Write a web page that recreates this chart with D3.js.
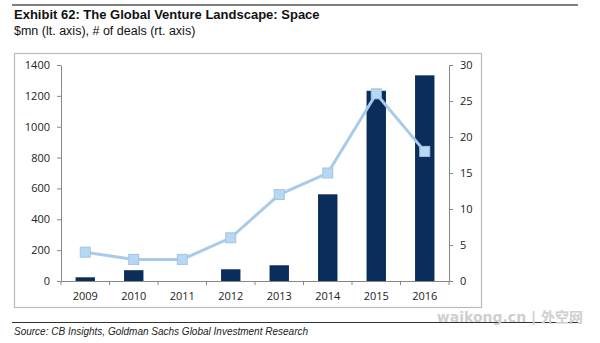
<!DOCTYPE html>
<html>
<head>
<meta charset="utf-8">
<script src="https://cdn.jsdelivr.net/npm/d3@7"></script>
<style>
  body { margin: 0; background: #fff; }
  svg { display: block; }
  .tick text { font-family: "Open Sans", "DejaVu Sans", sans-serif; font-size: 11px; fill: #222; }
</style>
</head>
<body>
<div id="chart"></div>
<script>
const years = ["2009", "2010", "2011", "2012", "2013", "2014", "2015", "2016"];
const funding = [24, 70, 0, 76, 102, 562, 1233, 1333];
const deals = [4, 3, 3, 6, 12, 15, 26, 18];
const leftTicks = [0, 200, 400, 600, 800, 1000, 1200, 1400];
const rightTicks = [0, 5, 10, 15, 20, 25, 30];

const width = 600, height = 343;
const plot = {left: 61, right: 449, top: 65, bottom: 281};

const svg = d3.select("#chart")
  .append("svg")
  .attr("width", width)
  .attr("height", height);

// header and footer rules
svg.append("line")
  .attr("x1", 12).attr("x2", 578).attr("y1", 5).attr("y2", 5)
  .attr("stroke", "#555").attr("stroke-width", 1.5);

svg.append("text")
  .attr("x", 14).attr("y", 19)
  .attr("font-family", "Liberation Sans, Arial, sans-serif")
  .attr("font-weight", "bold").attr("font-size", 13).attr("fill", "#111")
  .text("Exhibit 62: The Global Venture Landscape: Space");

svg.append("text")
  .attr("x", 14).attr("y", 35)
  .attr("font-family", "Liberation Sans, Arial, sans-serif")
  .attr("font-size", 12.5).attr("fill", "#111")
  .text("$mn (lt. axis), # of deals (rt. axis)");

svg.append("rect")
  .attr("x", 14.5).attr("y", 53.5).attr("width", 467).attr("height", 254)
  .attr("fill", "none").attr("stroke", "#bbb").attr("stroke-width", 1.2);

svg.append("line")
  .attr("x1", 12).attr("x2", 578).attr("y1", 322.5).attr("y2", 322.5)
  .attr("stroke", "#333").attr("stroke-width", 1);

svg.append("text")
  .attr("x", 14).attr("y", 335)
  .attr("font-family", "Liberation Sans, Arial, sans-serif")
  .attr("font-style", "italic").attr("font-size", 10).attr("fill", "#222")
  .text("Source: CB Insights, Goldman Sachs Global Investment Research");

svg.append("text")
  .attr("x", 583).attr("y", 322)
  .attr("text-anchor", "end")
  .attr("font-family", "DejaVu Sans, 'Noto Sans CJK SC', sans-serif")
  .attr("font-weight", "bold").attr("font-size", 14).attr("fill", "#cfcfcf")
  .text("waikong.cn | 外空网");

// scales
const x = d3.scaleBand().domain(years).range([plot.left, plot.right]);
const yLeft = d3.scaleLinear().domain([0, 1400]).range([plot.bottom, plot.top]);
const yRight = d3.scaleLinear().domain([0, 30]).range([plot.bottom, plot.top]);

const barW = x.bandwidth() * 0.4;

svg.append("g")
  .selectAll("rect")
  .data(years)
  .join("rect")
  .attr("x", d => x(d) + (x.bandwidth() - barW) / 2)
  .attr("width", barW)
  .attr("y", (d, i) => yLeft(funding[i]))
  .attr("height", (d, i) => plot.bottom - yLeft(funding[i]))
  .attr("fill", "#0b2d5b");

// axes
const leftAxis = svg.append("g")
  .attr("transform", `translate(${plot.left},0)`)
  .call(d3.axisLeft(yLeft).tickValues(leftTicks).tickFormat(d3.format("d"))
    .tickSize(4).tickPadding(7).tickSizeOuter(0));

const rightAxis = svg.append("g")
  .attr("transform", `translate(${plot.right},0)`)
  .call(d3.axisRight(yRight).tickValues(rightTicks).tickSize(4).tickPadding(7).tickSizeOuter(0));

const xAxis = svg.append("g")
  .attr("transform", `translate(0,${plot.bottom})`)
  .call(d3.axisBottom(x).tickSize(0).tickPadding(11));

// category separators on the x axis
svg.append("g")
  .selectAll("line")
  .data(years.concat(["end"]))
  .join("line")
  .attr("x1", (d, i) => plot.left + i * x.step())
  .attr("x2", (d, i) => plot.left + i * x.step())
  .attr("y1", plot.bottom).attr("y2", plot.bottom + 4)
  .attr("stroke", "#888");

[leftAxis, rightAxis, xAxis].forEach(g => {
  g.selectAll(".domain").attr("stroke", "#888");
  g.selectAll(".tick line").attr("stroke", "#888");
});

// deals line
const line = d3.line()
  .x((d, i) => x(years[i]) + x.bandwidth() / 2)
  .y(d => yRight(d));

svg.append("path")
  .datum(deals)
  .attr("d", line)
  .attr("fill", "none")
  .attr("stroke", "#a8cbea")
  .attr("stroke-width", 3);

svg.append("g")
  .selectAll("rect")
  .data(deals)
  .join("rect")
  .attr("x", (d, i) => x(years[i]) + x.bandwidth() / 2 - 5)
  .attr("y", d => yRight(d) - 5)
  .attr("width", 10).attr("height", 10)
  .attr("fill", "#b9d7f0")
  .attr("stroke", "#9fc5e8")
  .attr("stroke-width", 1);
</script>
</body>
</html>
